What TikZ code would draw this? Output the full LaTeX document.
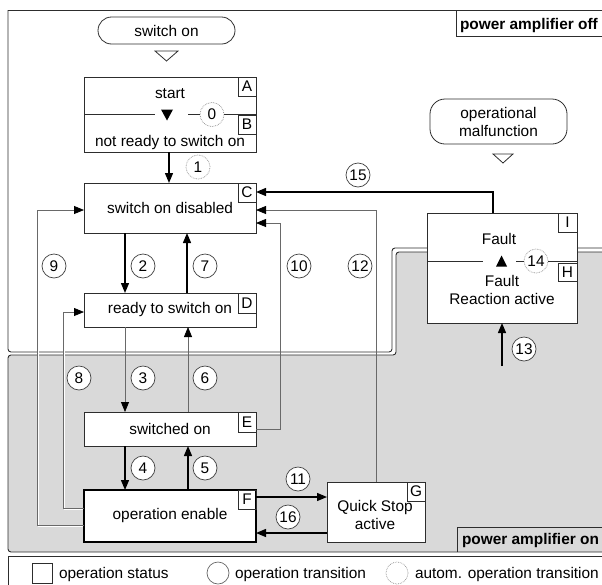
\documentclass[tikz,border=0pt]{standalone}
\usepackage{fontspec}
\setmainfont{Liberation Sans}
\usetikzlibrary{arrows.meta,calc}
\definecolor{regiongray}{RGB}{217,217,217}
\definecolor{edgec}{RGB}{45,45,45}
\definecolor{thinc}{RGB}{105,105,105}
\pgfdeclarelayer{bg}
\pgfsetlayers{bg,main}
\begin{document}
\begin{tikzpicture}[x=1pt,y=-1pt,
  font=\fontsize{15.4}{18}\selectfont,
  every node/.style={inner sep=0pt, outer sep=0pt},
  stbox/.style={draw=edgec, fill=white, line width=0.9pt, minimum width=172pt},
  lbl/.style={draw=edgec, line width=0.8pt, minimum width=18pt, minimum height=19pt, anchor=north east},
  trc/.style={circle, draw=black!75, fill=white, line width=0.7pt, minimum size=24pt},
  atrc/.style={trc, draw=black!45, densely dotted},
  arr/.style={line width=1.3pt, -{Triangle[length=10pt,width=8pt]}},
  garr/.style={draw=thinc, line width=0.8pt, -{Triangle[length=10pt,width=8pt,color=black,fill=black]}},
  regline/.style={draw=edgec, line width=0.9pt},
  thinline/.style={draw=edgec, line width=0.8pt},
  pill/.style={draw=edgec, line width=0.8pt, minimum width=137pt, align=center}
]
\useasboundingbox (0,0) rectangle (602,584);

% ---------- entry pills ----------
\node[pill, rounded corners=13.5pt, minimum height=27pt] (swon) at (166.5,30.5) {switch on};
\draw[thinline] (155,51) -- (178,51) -- (166.5,61) -- cycle;
\node[pill, rounded corners=15pt, minimum height=45pt] (opmal) at (498.5,121.5) {operational\\malfunction};
\draw[thinline] (493,154) -- (513,154) -- (503,163) -- cycle;

% ---------- state boxes ----------
\node[stbox, minimum height=75pt] (AB) at (170,114.5) {};
\node (tstart) at (170,93.5) {start};
\node (tnrtso) at (170,143) {not ready to switch on};
\node[lbl] (la) at (AB.north east) {A};
\node[lbl] (lb) at ([yshift=-0.5]AB.east) {B};
\draw[thinline] (AB.west) -- ++(71,0);
\fill (161,109.5) -- (173,109.5) -- (167,120.5) -- cycle;
\node[atrc] (t0) at (212,114.5) {0};
\draw[thinline] (t0.west) -- ++(-12,0);
\draw[thinline] (t0.east) -- (t0.east -| AB.east);

\node[stbox, minimum height=50pt] (C) at (170,208) {switch on disabled};
\node[lbl] (lc) at (C.north east) {C};
\node[stbox, minimum height=34pt] (D) at (170,310) {ready to switch on};
\node[lbl, minimum height=20pt] (ld) at (D.north east) {D};
\node[stbox, minimum height=34pt] (E) at (170,429) {switched on};
\node[lbl, minimum height=20pt] (le) at (E.north east) {E};
\node[stbox, draw=black, line width=2.4pt, minimum height=52pt] (F) at (170,516) {operation enable};
\node[lbl] (lf) at (F.north east) {F};

\node[draw=edgec, fill=white, line width=0.9pt, minimum width=98pt, minimum height=60pt] (G) at (376,512) {};
\node[align=center] (tG) at (375,515) {Quick Stop\\active};
\node[lbl] (lg) at (G.north east) {G};

\node[draw=edgec, fill=white, line width=0.9pt, minimum width=150pt, minimum height=110pt] (IH) at (502,268) {};
\node (tfault) at (499,239) {Fault};
\node[align=center] (tfra) at (502,290) {Fault\\Reaction active};
\node[lbl, minimum width=19pt] (li) at (IH.north east) {I};
\node[lbl, minimum width=19pt, minimum height=18pt] (lh) at ([yshift=5]IH.east) {H};
\draw[thinline] ([yshift=7]IH.west) -- ++(56,0);
\fill (496,266.5) -- (507,266.5) -- (501.5,255.5) -- cycle;
\node[atrc] (t14) at (536,261) {14};
\draw[thinline] (t14.west) -- ++(-8,0);
\draw[thinline] (t14.east) -- (t14.east -| IH.east);

% ---------- region labels ----------
\draw[thinline] (456,10) -- (456,36) -- (606,36);
\node[anchor=base west, font=\fontsize{15.4}{18}\selectfont\bfseries] (poff) at (460,29) {power amplifier off};
\draw[thinline] (457,552) -- (457,527) -- (606,527);
\node[anchor=base west, font=\fontsize{15.4}{18}\selectfont\bfseries] (pon) at (462,544) {power amplifier on};

% ---------- connectors ----------
\draw[arr] ([xshift=-1]AB.south) -- ([xshift=-1]C.north);
\draw[arr] ([xshift=-45]C.south) -- ([xshift=-45]D.north);
\draw[arr] ([xshift=17]D.north) -- ([xshift=17]C.south);
\draw[garr] ([xshift=-45]D.south) -- ([xshift=-45]E.north);
\draw[garr] ([xshift=18]E.north) -- ([xshift=18]D.south);
\draw[arr] ([xshift=-45]E.south) -- ([xshift=-45]F.north);
\draw[arr] ([xshift=18]F.north) -- ([xshift=18]E.south);
\draw[garr] ([yshift=8]F.west) -- ++(-21,0) |- ([yshift=-2]D.west);
\draw[garr] ([yshift=-9]F.west) -- ++(-47,0) |- ([yshift=-2]C.west);
\draw[garr] (E.east) -- ++(24,0) |- ([yshift=-15]C.east);
\draw[garr] (G.north) |- ([yshift=-2]C.east);
\draw[arr] ([xshift=-9]IH.north) |- ([yshift=16]C.east);
\coordinate (f11) at ([yshift=19]F.east);
\draw[arr] (f11) -- (f11 -| G.west);
\coordinate (g16) at ([yshift=-21]G.west);
\draw[arr] (g16) -- (g16 -| F.east);
\coordinate (s13) at (502,366);
\draw[arr] (s13) -- (IH.south);

% ---------- transition circles ----------
\node[atrc] (t1) at (198,167) {1};
\node[trc] (t2) at (143,266) {2};
\node[trc] (t7) at (205,266) {7};
\node[trc] (t9) at (54,266) {9};
\node[trc] (t10) at (299,266) {10};
\node[trc] (t12) at (360,266) {12};
\node[trc] (t15) at (358,175) {15};
\node[trc] (t3) at (143,378) {3};
\node[trc] (t6) at (205,378) {6};
\node[trc] (t8) at (79,378) {8};
\node[trc] (t4) at (143,468) {4};
\node[trc] (t5) at (205,468) {5};
\node[trc] (t11) at (298,479) {11};
\node[trc] (t16) at (288,517) {16};
\node[trc] (t13) at (524,349) {13};

% ---------- legend ----------
\draw[regline] (8,590) -- (8,556) -- (606,556);
\node[draw=edgec, line width=0.8pt, minimum size=20pt] (lsq) at (42,573) {};
\node[anchor=base west] (lt1) at (59,578) {operation status};
\node[circle, draw=black!60, line width=0.7pt, minimum size=22pt] (lci) at (218,573) {};
\node[anchor=base west] (lt2) at (235,578) {operation transition};
\node[circle, draw=black!45, densely dotted, line width=0.7pt, minimum size=22pt] (ldc) at (397,573) {};
\node[anchor=base west] (lt3) at (415,578) {autom. operation transition};

% ---------- background regions ----------
\begin{pgfonlayer}{bg}
\draw[regline] (8,10) -- (606,10);
\draw[regline, rounded corners=3pt] (8,10) -- (8,352) -- (392,352) -- (392,248) -- (606,248);
\draw[regline, fill=regiongray, rounded corners=3pt] (8,355) -- (396,355) -- (396,252) -- (606,252) -- (606,552) -- (8,552) -- cycle;
\draw[white, line width=1pt, transform canvas={shift={(1.6,1.6)}}] ([yshift=8]F.west) -- ++(-21,0) |- ([yshift=-2]D.west);
\draw[white, line width=1pt, transform canvas={shift={(1.6,1.6)}}] ([yshift=-9]F.west) -- ++(-47,0) |- ([yshift=-2]C.west);
\end{pgfonlayer}
\end{tikzpicture}
\end{document}
